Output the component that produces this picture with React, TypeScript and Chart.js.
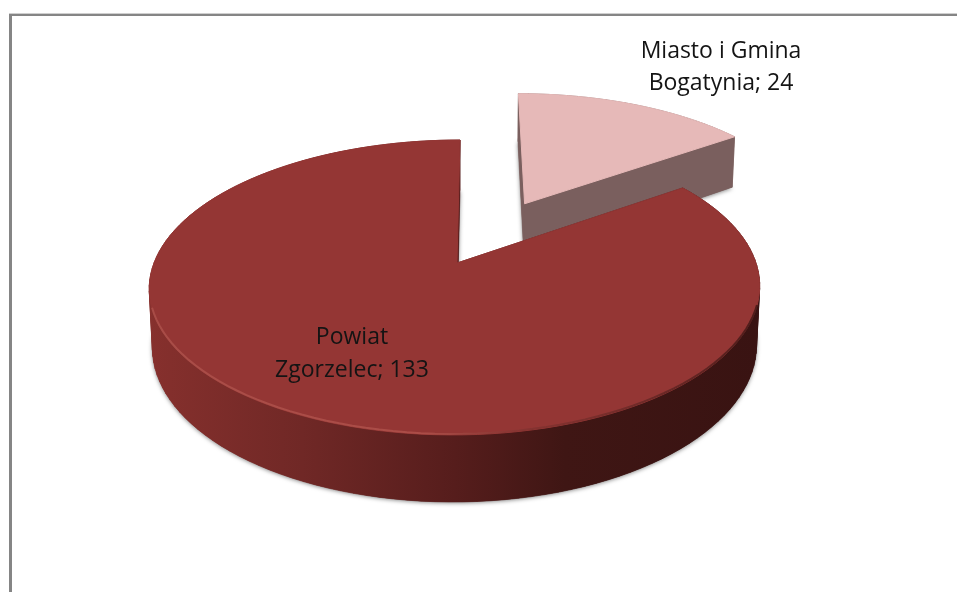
import React, { useEffect, useRef } from "react";
import { Chart, registerables } from "chart.js";

Chart.register(...registerables);

const categories = ["Miasto i Gmina Bogatynia", "Powiat Zgorzelec"];
const values = [24, 133];
const explode = [0.5, 0];
const labelLines = [
  ["Miasto i Gmina", "Bogatynia; 24"],
  ["Powiat", "Zgorzelec; 133"],
];
const faceColors = ["#E6B9B8", "#943634"];

const labelAnchors = [
  { x: 721, y: 51, gap: 32 },
  { x: 352, y: 337, gap: 33 },
];

// perspective view of the flat pie
const VIEW = { x0: 457, y0: 263, a: 301, b: 143.4, k: 0.166, depth: 58.3, m: 0.01, shear: 3.5, bow: 2 };
const sliceScale = [1.025, 1];
const sliceShiftX = [1.5, 0];

function project(u: number, v: number, low: boolean) {
  const w = 1 + VIEW.k * v + (low ? VIEW.m : 0);
  const x = VIEW.x0 + (VIEW.a * u + VIEW.shear * v) / w - VIEW.bow * u * u;
  const y = VIEW.y0 + ((low ? VIEW.depth : 0) - VIEW.b * v) / w;
  return { x, y };
}

function outline(start: number, end: number, index: number, low: boolean) {
  const ex = explode[index];
  const r = sliceScale[index];
  const mid = (start + end) / 2;
  const ou = Math.cos(mid) * ex;
  const ov = -Math.sin(mid) * ex;
  const pts = [project(ou, ov, low)];
  const n = Math.max(8, Math.round(((end - start) / (Math.PI * 2)) * 160));
  for (let i = 0; i <= n; i++) {
    const t = start + ((end - start) * i) / n;
    pts.push(project(ou + r * Math.cos(t), ov - r * Math.sin(t), low));
  }
  return pts.map((p) => ({ x: p.x + sliceShiftX[index], y: p.y }));
}

function tracePoly(ctx: CanvasRenderingContext2D, pts: { x: number; y: number }[]) {
  ctx.beginPath();
  pts.forEach((p, i) => (i ? ctx.lineTo(p.x, p.y) : ctx.moveTo(p.x, p.y)));
  ctx.closePath();
}

function wallStyle(ctx: CanvasRenderingContext2D, index: number) {
  if (index === 0) return "#7A5F5E";
  const g = ctx.createLinearGradient(150, 0, 760, 0);
  g.addColorStop(0, "#86302D");
  g.addColorStop(0.25, "#702826");
  g.addColorStop(0.5, "#561D1C");
  g.addColorStop(0.68, "#3F1614");
  g.addColorStop(1, "#391312");
  return g;
}

function drawSlice(ctx: CanvasRenderingContext2D, arc: any, index: number) {
  const top = outline(arc.startAngle, arc.endAngle, index, false);
  const low = outline(arc.startAngle, arc.endAngle, index, true);
  const wall = wallStyle(ctx, index);

  ctx.save();
  ctx.shadowColor = "rgba(0,0,0,0.5)";
  ctx.shadowBlur = 4;
  ctx.shadowOffsetY = 1;
  ctx.fillStyle = wall;
  tracePoly(ctx, low);
  ctx.fill();
  ctx.restore();

  ctx.save();
  ctx.fillStyle = wall;
  ctx.strokeStyle = wall;
  ctx.lineWidth = 0.6;
  for (let i = 0; i < top.length; i++) {
    const j = (i + 1) % top.length;
    tracePoly(ctx, [top[i], top[j], low[j], low[i]]);
    ctx.fill();
    ctx.stroke();
  }
  ctx.restore();

  ctx.save();
  ctx.fillStyle = arc.options.backgroundColor;
  ctx.strokeStyle = arc.options.backgroundColor;
  ctx.lineWidth = 1;
  tracePoly(ctx, top);
  ctx.fill();
  ctx.stroke();
  if (index === 1) {
    // bevel along the front rim
    const rim = ctx.createLinearGradient(150, 0, 760, 0);
    rim.addColorStop(0, "rgba(200,110,100,0.4)");
    rim.addColorStop(0.45, "rgba(200,105,95,0.45)");
    rim.addColorStop(0.62, "rgba(110,45,42,0.4)");
    rim.addColorStop(1, "rgba(50,18,16,0.7)");
    ctx.strokeStyle = rim;
    ctx.lineWidth = 2;
    ctx.beginPath();
    let started = false;
    for (let i = 1; i < top.length; i++) {
      if (top[i].y < VIEW.y0 + 40) continue;
      if (!started) {
        ctx.moveTo(top[i].x, top[i].y - 1);
        started = true;
      } else ctx.lineTo(top[i].x, top[i].y - 1);
    }
    ctx.stroke();
  }
  ctx.restore();
}

const piePerspective = {
  id: "piePerspective",
  beforeDraw(chart: any) {
    const ctx = chart.ctx;
    ctx.save();
    ctx.fillStyle = "#FFFFFF";
    ctx.fillRect(0, 0, chart.width, chart.height);
    ctx.fillStyle = "#CFCFCF";
    ctx.fillRect(9, 13, chart.width - 9, 1);
    ctx.fillStyle = "#858585";
    ctx.fillRect(9, 14, chart.width - 9, 2);
    ctx.fillRect(9, 14, 3, chart.height - 14);
    ctx.restore();
  },
  beforeDatasetsDraw(chart: any) {
    chart.getDatasetMeta(0).data.forEach((arc: any, i: number) => {
      arc.draw = (ctx: CanvasRenderingContext2D) => drawSlice(ctx, arc, i);
    });
  },
  afterDatasetsDraw(chart: any) {
    const ctx = chart.ctx;
    ctx.save();
    ctx.fillStyle = "#141414";
    ctx.font = '23px "Open Sans"';
    ctx.textAlign = "center";
    ctx.textBaseline = "middle";
    labelLines.forEach((lines, i) => {
      const a = labelAnchors[i];
      lines.forEach((line, j) => ctx.fillText(line, a.x, a.y + j * a.gap));
    });
    ctx.restore();
  },
};

export default function App() {
  const ref = useRef<HTMLCanvasElement>(null);
  useEffect(() => {
    const chart = new Chart(ref.current!, {
      type: "pie",
      data: {
        labels: categories,
        datasets: [{ data: values, backgroundColor: faceColors, borderWidth: 0 }],
      },
      options: {
        animation: false,
        responsive: false,
        plugins: { legend: { display: false }, tooltip: { enabled: false } },
      },
      plugins: [piePerspective],
    });
    return () => chart.destroy();
  }, []);
  return (
    <canvas
      ref={ref}
      width={957}
      height={592}
      style={{ position: "fixed", left: 0, top: 0, display: "block" }}
    />
  );
}
